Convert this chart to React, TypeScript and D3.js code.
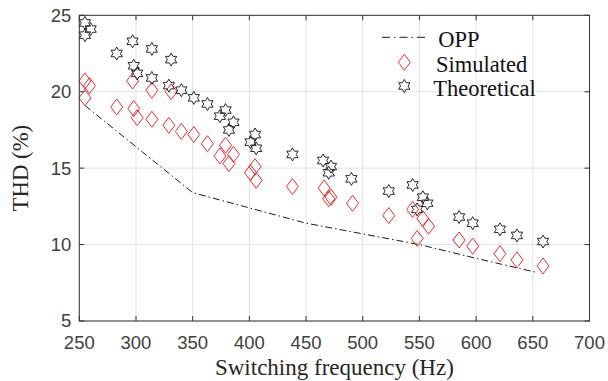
import React from "react";
import * as d3 from "d3";

// OPP curve (dash-dot)
const oppFreq = [255, 350, 400, 450, 500, 550, 600, 652];
const oppTHD = [19.1, 13.4, 12.4, 11.4, 10.7, 10.0, 9.1, 8.2];

// simulated (red diamonds)
const simFreq = [255, 259, 255, 283, 297, 298, 301, 314, 314, 331, 329, 340, 351, 363, 374, 379, 382, 386, 401, 405, 406, 438, 466, 470, 472, 491, 523, 544, 548, 553, 558, 585, 597, 621, 636, 659];
const simTHD = [20.7, 20.4, 19.6, 19.0, 20.7, 18.9, 18.3, 20.1, 18.2, 20.0, 17.8, 17.4, 17.2, 16.6, 15.8, 16.5, 15.3, 15.9, 14.7, 15.1, 14.2, 13.8, 13.7, 13.0, 13.1, 12.7, 11.9, 12.3, 10.4, 11.7, 11.2, 10.3, 9.9, 9.4, 9.0, 8.6];

// theoretical (hexagrams)
const theoFreq = [255, 260, 255, 283, 297, 298, 301, 314, 314, 331, 329, 340, 351, 363, 374, 379, 382, 386, 401, 405, 406, 438, 465, 472, 470, 490, 523, 544, 553, 548, 557, 585, 597, 621, 636, 659];
const theoTHD = [24.5, 24.1, 23.7, 22.5, 23.3, 21.7, 21.2, 22.8, 20.9, 22.1, 20.4, 20.1, 19.6, 19.2, 18.4, 18.8, 17.5, 18.0, 16.7, 17.2, 16.3, 15.9, 15.5, 15.1, 14.7, 14.3, 13.5, 13.9, 13.1, 12.3, 12.7, 11.8, 11.4, 11.0, 10.6, 10.2];

const xTicks = [250, 300, 350, 400, 450, 500, 550, 600, 650, 700];
const yTicks = [5, 10, 15, 20, 25];
const legendLabels = ["OPP", "Simulated", "Theoretical"];

const W = 608;
const H = 381;
const left = 79.3, right = 589.5, top = 15.3, bottom = 321;

const axisCol = "#333";
const gridCol = "#e3e3e3";
const red = "#f42a2a";

const diamond = (w: number, h: number) => `M0,${-h}L${w},0L0,${h}L${-w},0Z`;

const hexagram = (R: number) => {
  const r = R / Math.sqrt(3);
  const pts: string[] = [];
  for (let i = 0; i < 12; i++) {
    const a = -Math.PI / 2 + (i * Math.PI) / 6;
    const rr = i % 2 === 0 ? R : r;
    pts.push(`${(Math.cos(a) * rr).toFixed(2)},${(Math.sin(a) * rr).toFixed(2)}`);
  }
  return "M" + pts.join("L") + "Z";
};

const App: React.FC = () => {
  const x = d3.scaleLinear().domain([250, 700]).range([left, right]);
  const y = d3.scaleLinear().domain([5, 25]).range([bottom, top]);

  const line = d3
    .line<number>()
    .x((d) => x(d))
    .y((_, i) => y(oppTHD[i]));

  const dPath = diamond(6, 8);
  const sPath = hexagram(6.5);

  return (
    <svg
      width={W}
      height={H}
      style={{ position: "absolute", left: 0, top: 0, background: "#fff" }}
    >
      {/* grid */}
      {xTicks.map((t) => (
        <line key={"gx" + t} x1={x(t)} x2={x(t)} y1={top} y2={bottom} stroke={gridCol} strokeWidth={1} />
      ))}
      {yTicks.map((t) => (
        <line key={"gy" + t} x1={left} x2={right} y1={y(t)} y2={y(t)} stroke={gridCol} strokeWidth={1} />
      ))}

      {/* OPP */}
      <path
        d={line(oppFreq) || ""}
        fill="none"
        stroke="#000"
        strokeWidth={0.9}
        strokeDasharray="7,3,1.5,3"
      />

      {/* simulated */}
      {simFreq.map((f, i) => (
        <path
          key={"s" + i}
          d={dPath}
          transform={`translate(${x(f)},${y(simTHD[i])})`}
          fill="none"
          stroke={red}
          strokeWidth={1}
        />
      ))}

      {/* theoretical */}
      {theoFreq.map((f, i) => (
        <path
          key={"t" + i}
          d={sPath}
          transform={`translate(${x(f)},${y(theoTHD[i])})`}
          fill="none"
          stroke="#111"
          strokeWidth={0.9}
        />
      ))}

      {/* box */}
      <rect x={left} y={top} width={right - left} height={bottom - top} fill="none" stroke={axisCol} strokeWidth={1} />

      {/* ticks */}
      {xTicks.map((t) => (
        <g key={"tx" + t}>
          <line x1={x(t)} x2={x(t)} y1={bottom} y2={bottom - 5} stroke={axisCol} />
          <line x1={x(t)} x2={x(t)} y1={top} y2={top + 5} stroke={axisCol} />
          <text
            x={x(t)}
            y={bottom + 28}
            textAnchor="middle"
            fontFamily="'Liberation Sans', Arial, sans-serif"
            fontSize={18.5}
            fill="#404040"
          >
            {t}
          </text>
        </g>
      ))}
      {yTicks.map((t) => (
        <g key={"ty" + t}>
          <line x1={left} x2={left + 5} y1={y(t)} y2={y(t)} stroke={axisCol} />
          <line x1={right} x2={right - 5} y1={y(t)} y2={y(t)} stroke={axisCol} />
          <text
            x={left - 8}
            y={y(t)}
            dy="0.35em"
            textAnchor="end"
            fontFamily="'Liberation Sans', Arial, sans-serif"
            fontSize={18.5}
            fill="#404040"
          >
            {t}
          </text>
        </g>
      ))}

      {/* axis labels */}
      <text
        transform={`translate(28.3,${(top + bottom) / 2}) rotate(-90)`}
        textAnchor="middle"
        fontFamily="'Liberation Serif', 'Times New Roman', serif"
        fontSize={22.8}
        fill="#262626"
      >
        THD (%)
      </text>
      <text
        x={(left + right) / 2}
        y={375}
        textAnchor="middle"
        fontFamily="'Liberation Serif', 'Times New Roman', serif"
        fontSize={23}
        fill="#262626"
      >
        Switching frequency (Hz)
      </text>

      {/* legend */}
      <line x1={382} x2={425} y1={37.3} y2={37.3} stroke="#000" strokeWidth={0.9} strokeDasharray="8,4,1.5,4" />
      <path d={dPath} transform="translate(404.3,62.3)" fill="none" stroke={red} strokeWidth={1} />
      <path d={sPath} transform="translate(404.3,86)" fill="none" stroke="#111" strokeWidth={0.9} />
      {legendLabels.map((l, i) => (
        <text
          key={l}
          x={[438.3, 436, 433.3][i]}
          y={47.3 + i * 24.3}
          fontFamily="'Liberation Serif', 'Times New Roman', serif"
          fontSize={22.5}
          fill="#111"
        >
          {l}
        </text>
      ))}
    </svg>
  );
};

export default App;
